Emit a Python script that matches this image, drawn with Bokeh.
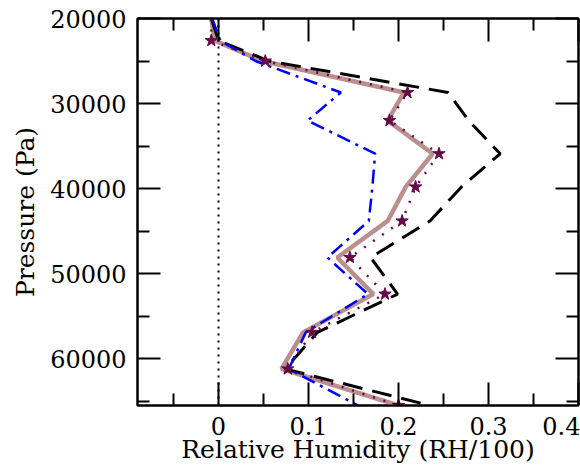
from bokeh.plotting import figure
from bokeh.models import Range1d, LinearAxis, FixedTicker, Span
from bokeh.embed import file_html
from bokeh.resources import INLINE

pressure = [20000, 22600, 25000, 28700, 32000, 35900, 39800, 43800, 48100, 52400, 56900, 61200, 65500]
rh_rose = [-0.008, -0.004, 0.049, 0.206, 0.188, 0.238, 0.208, 0.188, 0.132, 0.172, 0.094, 0.070, 0.200]
rh_purple = [-0.008, -0.008, 0.052, 0.210, 0.190, 0.245, 0.219, 0.204, 0.146, 0.185, 0.104, 0.077, 0.200]
rh_black = [-0.008, 0.000, 0.056, 0.255, 0.278, 0.313, 0.270, 0.235, 0.169, 0.199, 0.110, 0.074, 0.235]
rh_blue = [-0.007, 0.002, 0.041, 0.136, 0.099, 0.174, 0.171, 0.167, 0.121, 0.166, 0.097, 0.078, 0.155]

x_ticks = [0, 0.1, 0.2, 0.3, 0.4]
x_minor = [-0.05, 0.05, 0.15, 0.25, 0.35]
y_ticks = [20000, 30000, 40000, 50000, 60000]
y_minor = [25000, 35000, 45000, 55000, 65000]

FONT = "DejaVu Serif"

p = figure(width=580, height=474, output_backend="svg", toolbar_location=None,
           x_range=Range1d(-0.09, 0.4), y_range=Range1d(65500, 20000),
           x_axis_location=None, y_axis_location=None)
p.min_border_left = 137
p.min_border_right = 2
p.min_border_top = 18
p.min_border_bottom = 69
p.grid.visible = False
p.outline_line_color = "black"
p.outline_line_width = 2
p.background_fill_color = "white"
p.border_fill_color = "white"


def style(ax, labels=True):
    ax.axis_line_width = 2
    ax.axis_line_color = "black"
    ax.major_tick_in = 23
    ax.major_tick_out = 0
    ax.minor_tick_in = 12
    ax.minor_tick_out = 0
    ax.major_tick_line_width = 2
    ax.minor_tick_line_width = 2
    ax.major_tick_line_color = "black"
    ax.minor_tick_line_color = "black"
    ax.major_label_text_font = FONT
    ax.major_label_text_font_size = "24px"
    ax.major_label_text_color = "black"
    ax.axis_label_text_font = FONT
    ax.axis_label_text_font_size = "25px"
    ax.axis_label_text_font_style = "normal"
    ax.axis_label_text_color = "black"
    if not labels:
        ax.major_label_text_font_size = "0px"
        ax.major_label_text_alpha = 0


xt = FixedTicker(ticks=x_ticks, minor_ticks=x_minor)
yt = FixedTicker(ticks=y_ticks, minor_ticks=y_minor)

xb = LinearAxis(ticker=xt, axis_label="Relative Humidity (RH/100)")
style(xb)
xb.major_label_overrides = {0: "0", 0.1: "0.1", 0.2: "0.2", 0.3: "0.3", 0.4: "0.4"}
xb.major_label_standoff = 11
xb.axis_label_standoff = -3
p.add_layout(xb, "below")

xtop = LinearAxis(ticker=xt)
style(xtop, labels=False)
p.add_layout(xtop, "above")

yl = LinearAxis(ticker=yt, axis_label="Pressure (Pa)")
style(yl)
yl.major_label_standoff = 11
yl.axis_label_standoff = 7
p.add_layout(yl, "left")

yr = LinearAxis(ticker=yt)
style(yr, labels=False)
p.add_layout(yr, "right")

zero = Span(location=0, dimension="height", line_color="black", line_width=2, line_dash="2 5")
p.add_layout(zero)

p.line(rh_rose, pressure, line_color="#BC8F8F", line_width=4.5)
p.line(rh_black, pressure, line_color="black", line_width=3, line_dash="20 10")
p.line(rh_blue, pressure, line_color="#0000FF", line_width=2.5, line_dash="14 6 3 6")
p.line(rh_purple, pressure, line_color="#650A45", line_width=2.5, line_dash="2 9")
p.scatter(rh_purple[1:], pressure[1:], marker="star", size=13, fill_color="#650A45",
          line_color="#650A45")

open("out.html", "w").write(file_html(p, INLINE))
